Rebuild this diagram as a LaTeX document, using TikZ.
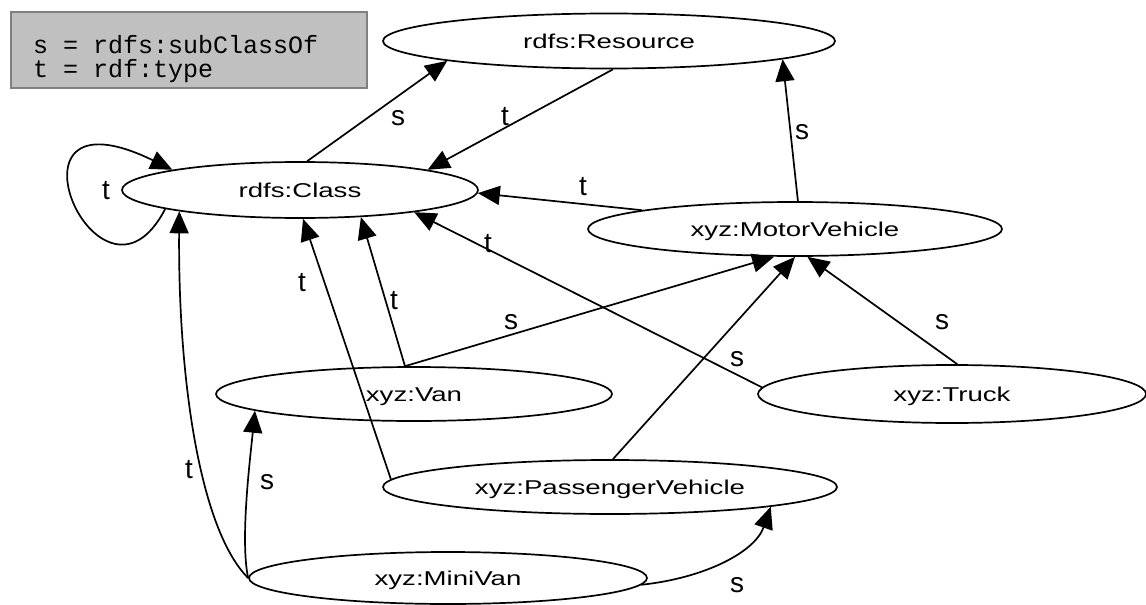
\documentclass[tikz,border=0pt]{standalone}
\usepackage{fontspec}
\setmainfont{Liberation Sans}
\newfontfamily\classfont{Liberation Sans}[FakeStretch=1.38]
\newfontfamily\keyfont{Liberation Mono}
\usetikzlibrary{arrows.meta,shapes.geometric}
\definecolor{keyfill}{RGB}{192,192,192}
\definecolor{keyedge}{RGB}{128,128,128}

\begin{document}
\begin{tikzpicture}[x=1pt, y=-1pt,
  cls/.style={ellipse, draw, line width=1.7pt, inner sep=0pt,
    text height=15pt, text depth=1pt, font=\classfont\fontsize{20}{24}\selectfont},
  edge/.style={line width=1.7pt, -{Triangle[length=22pt,width=19pt]}},
  lbl/.style={inner sep=0pt, font=\fontsize{28}{30}\selectfont},
  keyrow/.style={anchor=base west, inner sep=0pt, font=\keyfont\fontsize{25}{24}\selectfont}]
  \useasboundingbox (0,0) rectangle (1146,605);
  % legend
  \node[draw=keyedge, fill=keyfill, line width=2.5pt, minimum width=356, minimum height=76] (legend) at (189,50) {};
  \node[keyrow] (keys) at (33,53) {s = rdfs:subClassOf};
  \node[keyrow] (keyt) at (33,77) {t = rdf:type};
  % classes
  \foreach \id/\x/\y/\w/\h/\txt in {Resource/609/41/452/55/{rdfs:Resource},
      Class/300/190/356/56/{rdfs:Class}, MotorVehicle/795/229/414/54/{xyz:MotorVehicle},
      Van/414/394/396/54/{xyz:Van}, Truck/952/394/388/58/{xyz:Truck},
      PassengerVehicle/610/487/454/54/{xyz:PassengerVehicle}, MiniVan/448/578/398/52/{xyz:MiniVan}}
    {
      \node[cls, minimum width=\w, minimum height=\h] (\id) at (\x,\y) {\txt};
    }
  % straight properties
  \foreach \a/\b in {Class.76/Resource.187, Resource.-82/Class.9, MotorVehicle.173/Class.-1,
      MotorVehicle.84/Resource.-6.5, Van.108/MotorVehicle.-127, Van.108/Class.-24,
      Truck.178/Class.-11, Truck.80/MotorVehicle.-66, PassengerVehicle.84/MotorVehicle.-90,
      PassengerVehicle.178/Class.-84}
    {
      \draw[edge] (\a) -- (\b);
    }
  % curved properties
  \draw[edge] (Class.188) .. controls (100,335) and (-12,80) .. (Class.171);
  \draw[edge] (MiniVan.west) .. controls (240,540) and (250,460) .. (Van.186);
  \draw[edge] (MiniVan.west) .. controls (200,530) and (178,380) .. (Class.190);
  \draw[edge] (MiniVan.-2) .. controls (705,578) and (755,552) .. (PassengerVehicle.-7);
  % property labels
  \foreach \id/\x/\y/\txt in {s1/398/118/s, t1/505/117/t, s2/802/132/s, t2/583/187/t,
      t3/106/191/t, t4/488/244/t, t5/302/283/t, t6/394/301/t, s3/511/322/s,
      s4/942/322/s, s5/737/359/s, s6/267/482/s, t7/189/470/t, s7/737/585/s}
    {
      \node[lbl] (\id) at (\x,\y) {\txt};
    }
\end{tikzpicture}
\end{document}
